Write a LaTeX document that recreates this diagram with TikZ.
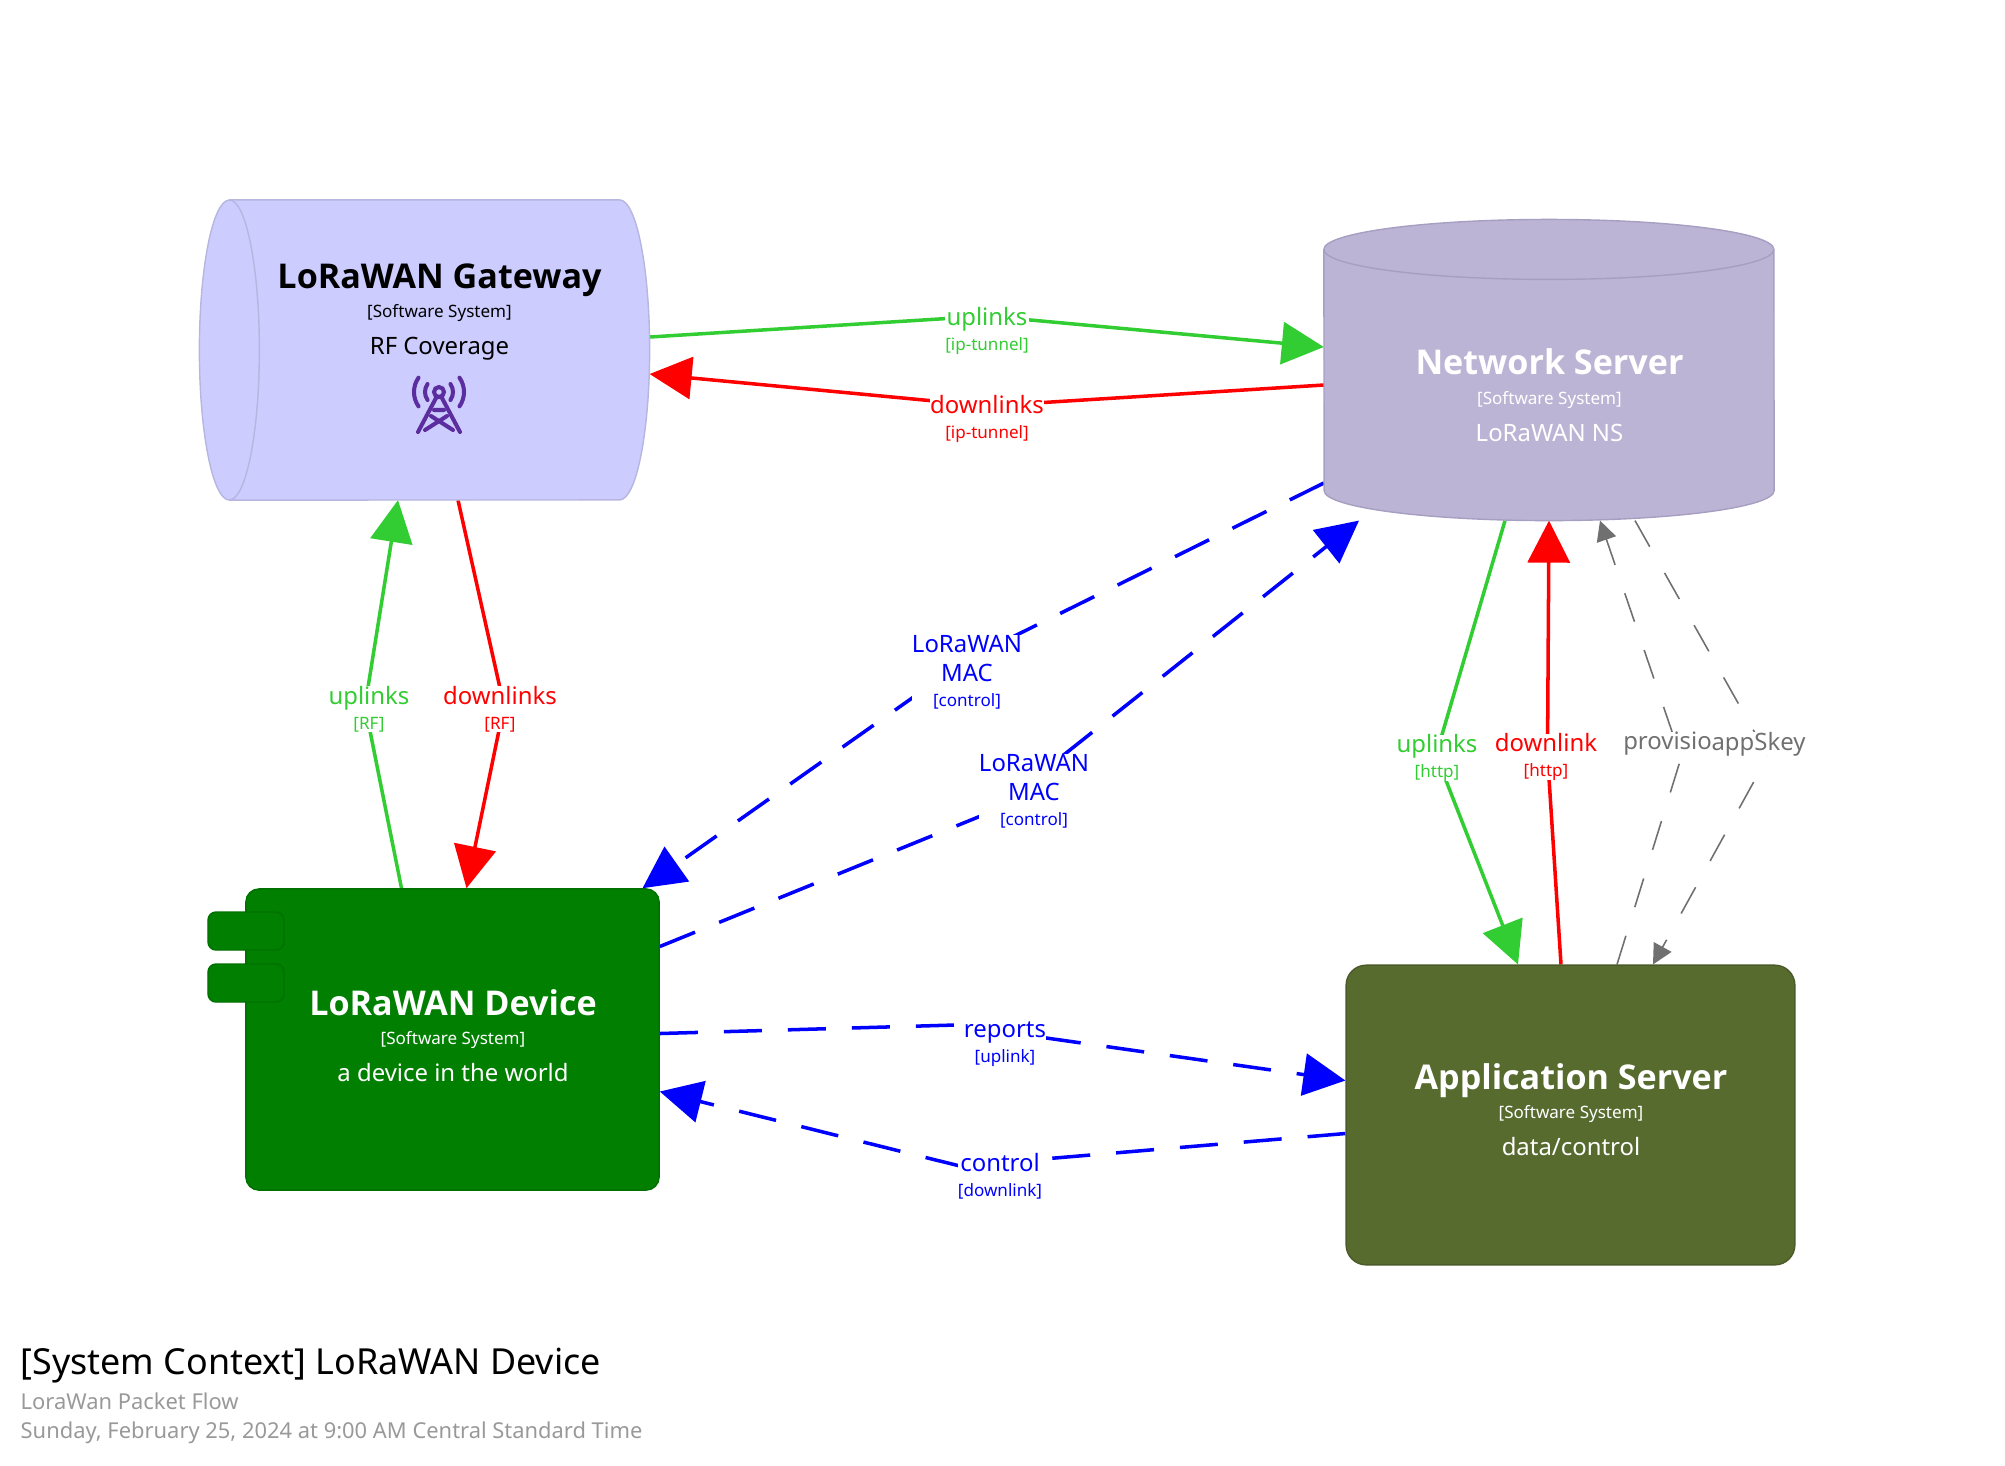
\documentclass[tikz,border=0pt]{standalone}
\usepackage{fontspec}
\setmainfont{Noto Sans}
\newfontfamily\namefamily{Open Sans}
\usetikzlibrary{arrows.meta, backgrounds}
\definecolor{gatewayfill}{HTML}{CCCCFF}
\definecolor{gatewayline}{HTML}{B6B6E0}
\definecolor{serverfill}{HTML}{BCB4D4}
\definecolor{serverline}{HTML}{A69FC2}
\definecolor{devicefill}{HTML}{007F00}
\definecolor{deviceline}{HTML}{007000}
\definecolor{appfill}{HTML}{576B2F}
\definecolor{appline}{HTML}{4A5A28}
\definecolor{uplinkgreen}{HTML}{32CD32}
\definecolor{greyline}{HTML}{707070}
\definecolor{footgrey}{HTML}{999999}
\definecolor{iconpurple}{HTML}{5C2D9E}
\newcommand{\namefont}{\namefamily\fontsize{9.7}{12}\selectfont\bfseries}
\newcommand{\metafont}{\fontsize{4.85}{7}\selectfont}
\newcommand{\descfont}{\fontsize{6.8}{9}\selectfont}
\newcommand{\boxlabel}[3]{{\namefont #1}\\[-1.4pt]{\metafont #2}\\[.7pt]{\descfont #3}}
\tikzset{
  boxtext/.style={align=center, inner sep=0pt, font=\fontsize{6.8}{9.8}\selectfont},
  linklabel/.style={align=center, inner sep=0pt, fill=white, font=\fontsize{6.8}{7}\selectfont},
  solidlink/.style={line width=1pt, -{Triangle[length=4.2mm,width=4.2mm]}},
  dashlink/.style={solidlink, dash pattern=on 3.8mm off 2.6mm},
  greylink/.style={line width=.45pt, greyline, dash pattern=on 3mm off 3mm, -{Triangle[length=2mm,width=2mm]}},
}
\begin{document}
\begin{tikzpicture}[x=.01cm, y=-.01cm]
\useasboundingbox (0,0) rectangle (2005,1465);
% Gateway lying on its side
\node[minimum width=4.5cm, minimum height=3cm, inner sep=0pt, outer sep=0pt] (gateway) at (424.5,350) {};
\draw[gatewayline, fill=gatewayfill] ([shift={(30,0)}]gateway.north west) -- ([shift={(-30,0)}]gateway.north east) arc [start angle=-90, end angle=90, x radius=30, y radius=150] -- ([shift={(30,0)}]gateway.south west) arc [start angle=90, end angle=270, x radius=30, y radius=150] -- cycle;
\draw[gatewayline] ([shift={(30,0)}]gateway.north west) arc [start angle=-90, end angle=90, x radius=30, y radius=150];
% Network server standing up
\node[minimum width=4.5cm, minimum height=3.01cm, inner sep=0pt, outer sep=0pt] (server) at (1549,370) {};
\draw[serverline, fill=serverfill] ([shift={(0,30)}]server.north west) arc [start angle=180, end angle=360, x radius=225, y radius=30] -- ([shift={(0,-30)}]server.south east) arc [start angle=0, end angle=180, x radius=225, y radius=30] -- cycle;
\draw[serverline] ([shift={(0,30)}]server.north west) arc [start angle=180, end angle=0, x radius=225, y radius=30];
% Device with its two tabs
\node[draw=deviceline, fill=devicefill, rounded corners=.13cm, minimum width=4.13cm, minimum height=3.01cm] (device) at (452.5,1039.5) {};
\node[draw=deviceline, fill=devicefill, rounded corners=.08cm, minimum width=.76cm, minimum height=.38cm] (tabone) at (246,931) {};
\node[draw=deviceline, fill=devicefill, rounded corners=.08cm, minimum width=.76cm, minimum height=.38cm] (tabtwo) at (246,983) {};
% Application server
\node[draw=appline, fill=appfill, rounded corners=.2cm, minimum width=4.485cm, minimum height=2.995cm] (app) at (1570.5,1115) {};
% Box texts
\node[boxtext] (gatewaytext) at (439.5,312) {\boxlabel{LoRaWAN Gateway}{[Software System]}{RF Coverage}};
\node[boxtext, text=white] (servertext) at (1549.5,395) {\boxlabel{Network Server}{[Software System]}{LoRaWAN NS}};
\node[boxtext, text=white] (devicetext) at (453,1035.5) {\boxlabel{LoRaWAN Device}{[Software System]}{a device in the world}};
\node[boxtext, text=white] (apptext) at (1571,1109.5) {\boxlabel{Application Server}{[Software System]}{data/control}};
% Tower icon
\begin{scope}[shift={(439,392)}, iconpurple, line width=1.15pt, line cap=round]
\draw (0,0) circle [radius=5];
\draw (-3,6) -- (-21,40) (3,6) -- (21,40);
\draw (-5,18) -- (5,18) (-8,24) -- (14,38) (8,24) -- (-14,38);
\foreach \r in {14,25} {
  \draw (35:\r) arc [start angle=35, end angle=-35, radius=\r];
  \draw (145:\r) arc [start angle=145, end angle=215, radius=\r];
}
\end{scope}
% Link labels
\node[linklabel, text=uplinkgreen] (gwsrvup) at (987,331) {uplinks\\{\metafont [ip-tunnel]}};
\node[linklabel, text=red] (srvgwdown) at (987,419) {downlinks\\{\metafont [ip-tunnel]}};
\node[linklabel, text=uplinkgreen] (devgwup) at (369,709) {uplinks\\{\metafont [RF]}};
\node[linklabel, text=red] (gwdevdown) at (500,709) {downlinks\\{\metafont [RF]}};
\node[linklabel, text=blue] (srvdevmac) at (967,672) {LoRaWAN\\[1.3pt]MAC\\{\metafont [control]}};
\node[linklabel, text=blue] (devsrvmac) at (1034,791) {LoRaWAN\\[1.3pt]MAC\\{\metafont [control]}};
\node[linklabel, text=blue] (devappreport) at (1005,1044) {reports\\{\metafont [uplink]}};
\node[linklabel, text=blue] (appdevctrl) at (1000,1176) {control\\{\metafont [downlink]}};
\node[linklabel, text=uplinkgreen] (srvappup) at (1437,758) {uplinks\\{\metafont [http]}};
\node[linklabel, text=red] (appsrvdown) at (1546,757) {downlink\\{\metafont [http]}};
\node[linklabel, text=greyline] (provlabel) at (1667.5,744) {provisio};
\node[linklabel, text=greyline] (skeylabel) at (1758.5,744) {appSkey};
% Connectors go under the labels
\begin{scope}[on background layer]
\draw[solidlink, uplinkgreen] ([shift={(0,-13)}]gateway.east) -- ([shift={(0,-15)}]gwsrvup.center) -- ([shift={(0,-23)}]server.west);
\draw[solidlink, red] ([shift={(0,15)}]server.west) -- ([shift={(0,-13)}]srvgwdown.center) -- ([shift={(0,24)}]gateway.east);
\draw[solidlink, uplinkgreen] ([shift={(-51,0)}]device.north) -- ([shift={(-4,-3)}]devgwup.center) -- ([shift={(-26.5,0)}]gateway.south);
\draw[solidlink, red] ([shift={(33.5,0)}]gateway.south) -- ([shift={(4,-3)}]gwdevdown.center) -- ([shift={(14,0)}]device.north);
\draw[dashlink, blue] ([shift={(0,113)}]server.west) -- ([shift={(-1,-12)}]srvdevmac.center) -- ([shift={(190,0)}]device.north);
\draw[dashlink, blue] ([shift={(0,-93)}]device.east) -- ([shift={(-41,20)}]devsrvmac.center) -- ([shift={(-190,0)}]server.south);
\draw[dashlink, blue] ([shift={(0,-6)}]device.east) -- ([shift={(-50,-19)}]devappreport.center) -- ([shift={(0,-34.5)}]app.west);
\draw[dashlink, blue] ([shift={(0,18.5)}]app.west) -- ([shift={(-40,-10)}]appdevctrl.center) -- ([shift={(0,52)}]device.east);
\draw[solidlink, uplinkgreen] ([shift={(-44,0)}]server.south) -- ([shift={(-1,-3)}]srvappup.center) -- ([shift={(-52.5,0)}]app.north);
\draw[solidlink, red] ([shift={(-9.5,0)}]app.north) -- ([shift={(1.5,-2)}]appsrvdown.center) -- ([shift={(0,0)}]server.south);
\draw[greylink] ([shift={(46.5,0)}]app.north) -- ([shift={(13.5,14)}]provlabel.center) -- ([shift={(51,0)}]server.south);
\draw[greylink] ([shift={(86,0)}]server.south) -- ([shift={(9.5,12)}]skeylabel.center) -- ([shift={(82.5,0)}]app.north);
\end{scope}
% Footer
\node[anchor=west, inner sep=0pt, font=\fontsize{10.2}{12}\selectfont] (foottitle) at (20,1365.5) {[System Context] LoRaWAN Device};
\node[anchor=west, inner sep=0pt, text=footgrey, font=\fontsize{6.23}{8}\selectfont] (footsub) at (20,1401) {LoraWan Packet Flow};
\node[anchor=west, inner sep=0pt, text=footgrey, font=\fontsize{6.23}{8}\selectfont] (footdate) at (20,1433) {Sunday, February 25, 2024 at 9:00 AM Central Standard Time};
\end{tikzpicture}
\end{document}
